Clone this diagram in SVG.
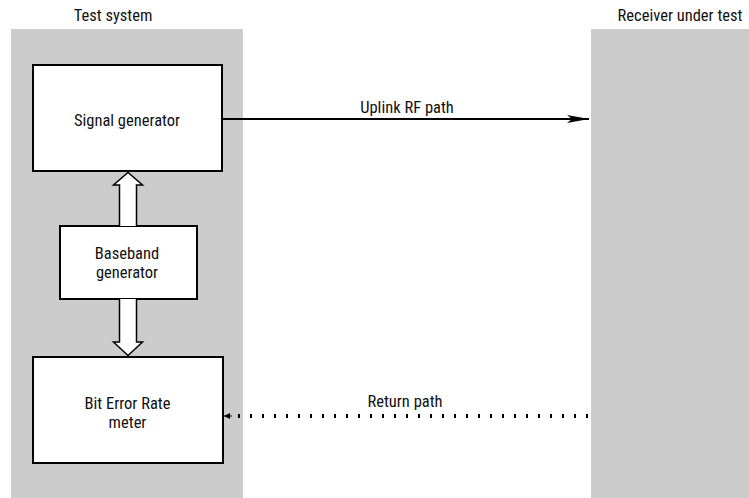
<svg xmlns="http://www.w3.org/2000/svg" width="749" height="498" viewBox="0 0 749 498">
<defs>
<style>
.panel{fill:#cccccc;stroke:none}
.box{fill:#ffffff;stroke:#000000;stroke-width:2}
.hollow{fill:#ffffff;stroke:#000000;stroke-width:1.5;stroke-linejoin:miter}
text{font-family:"Roboto Condensed","Liberation Sans Narrow","Liberation Sans",Arial,sans-serif;font-size:16.5px;fill:#111111;text-anchor:middle}
.line{stroke:#000000;fill:none}
</style>
<marker id="arr" viewBox="0 0 22 8" refX="22" refY="4" markerWidth="22" markerHeight="8" markerUnits="userSpaceOnUse" orient="auto">
<path d="M0,0 L22,4 L0,8 L5,4 Z" fill="#000"/>
</marker>
<marker id="arrs" viewBox="0 0 6 6" refX="6" refY="3" markerWidth="6" markerHeight="6" markerUnits="userSpaceOnUse" orient="auto">
<path d="M0,0 L6,3 L0,6 Z" fill="#000"/>
</marker>
</defs>
<g id="test-system">
<rect class="panel" x="11" y="29" width="232" height="469"/>
<text x="113" y="21">Test system</text>
</g>
<g id="receiver">
<rect class="panel" x="591" y="29" width="158" height="469"/>
<text x="680" y="21">Receiver under test</text>
</g>
<g id="signal-generator">
<rect class="box" x="33" y="65" width="189" height="106"/>
<text x="127" y="126">Signal generator</text>
</g>
<g id="baseband-generator">
<rect class="box" x="60" y="226" width="137" height="73"/>
<text x="127" y="259">Baseband</text>
<text x="127" y="278">generator</text>
</g>
<g id="ber-meter">
<rect class="box" x="33" y="357" width="190" height="106"/>
<text x="127.5" y="409">Bit Error Rate</text>
<text x="127.5" y="428">meter</text>
</g>
<g id="connectors">
<path class="hollow" d="M119.5,226 L119.5,185 L113.5,185 L128,172.5 L142.5,185 L136.5,185 L136.5,226"/>
<path class="hollow" d="M119.5,299 L119.5,342 L113.5,342 L128,355.5 L142.5,342 L136.5,342 L136.5,299"/>
<line class="line" x1="223" y1="119" x2="589" y2="119" stroke-width="2" marker-end="url(#arr)"/>
<line class="line" x1="588" y1="416" x2="234" y2="416" stroke-width="4" stroke-dasharray="2 10"/>
<line class="line" x1="232" y1="416" x2="224" y2="416" stroke-width="1" marker-end="url(#arrs)"/>
<text x="407" y="113">Uplink RF path</text>
<text x="405" y="407">Return path</text>
</g>
</svg>
